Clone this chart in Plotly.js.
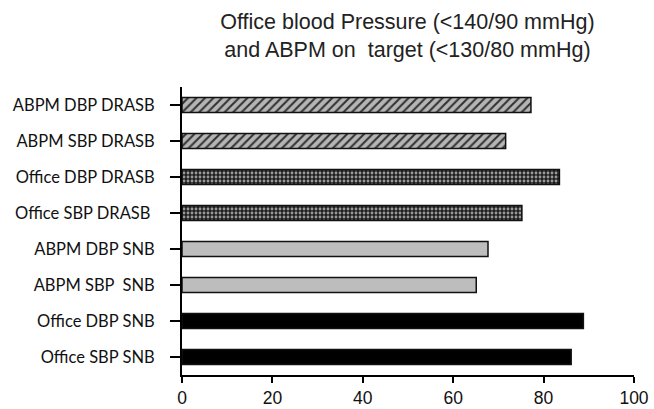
<!DOCTYPE html>
<html>
<head>
<meta charset="utf-8">
<script src="https://cdn.plot.ly/plotly-3.0.1.min.js"></script>
<style>html,body{margin:0;padding:0;background:#fff;}#chart{width:654px;height:409px;}</style>
</head>
<body>
<div id="chart"></div>
<script>
var categories = ["Office SBP SNB", "Office DBP SNB", "ABPM SBP  SNB", "ABPM DBP SNB",
                  "Office SBP DRASB ", "Office DBP DRASB", "ABPM SBP DRASB", "ABPM DBP DRASB"];
var officeSNB = [86.1, 88.8];
var abpmSNB = [65.1, 67.7];
var officeDRASB = [75.2, 83.5];
var abpmDRASB = [71.6, 77.2];

function bar(cats, vals, marker) {
  return {type: 'bar', orientation: 'h', y: cats, x: vals, width: 0.42,
          marker: marker, hoverinfo: 'x+y', showlegend: false};
}
var line = {color: '#111', width: 1.5};
var data = [
  bar(categories.slice(0, 2), officeSNB, {color: '#000', line: line}),
  bar(categories.slice(2, 4), abpmSNB, {color: '#bdbdbd', line: line}),
  bar(categories.slice(4, 6), officeDRASB, {color: '#444', line: line,
      pattern: {shape: '.', bgcolor: '#1e1e1e', fgcolor: '#9a9a9a', size: 4, solidity: 0.4}}),
  bar(categories.slice(6, 8), abpmDRASB, {color: '#333', line: line,
      pattern: {shape: '/', bgcolor: '#b5b5b5', fgcolor: '#333', size: 6, solidity: 0.35}})
];
var layout = {
  width: 654, height: 409,
  margin: {l: 182, r: 20, t: 87, b: 34},
  paper_bgcolor: '#fff', plot_bgcolor: '#fff',
  barmode: 'overlay',
  title: {text: 'Office blood Pressure (<140/90 mmHg)<br>and ABPM on  target (<130/80 mmHg)',
          x: 0.623, xanchor: 'center', y: 0.93, yanchor: 'top',
          font: {family: 'Liberation Sans, Arial, sans-serif', size: 21.5, color: '#222'}},
  xaxis: {range: [0, 100], tickvals: [0, 20, 40, 60, 80, 100], showgrid: false, zeroline: false,
          showline: true, linecolor: '#000', linewidth: 2, ticks: 'outside', ticklen: 6,
          tickwidth: 2, tickcolor: '#000',
          tickfont: {family: 'Liberation Sans, Arial, sans-serif', size: 17.5, color: '#111'}},
  yaxis: {type: 'category', categoryorder: 'array', categoryarray: categories, range: [-0.5, 7.5],
          showgrid: false, zeroline: false, showline: true, linecolor: '#000', linewidth: 2,
          ticks: 'outside', ticklen: 10, tickwidth: 2, tickcolor: '#000', ticklabelstandoff: 12,
          tickfont: {family: 'Lato, Carlito, sans-serif', size: 16.5, color: '#111'}}
};
Plotly.newPlot('chart', data, layout, {staticPlot: true, displayModeBar: false});
</script>
</body>
</html>
